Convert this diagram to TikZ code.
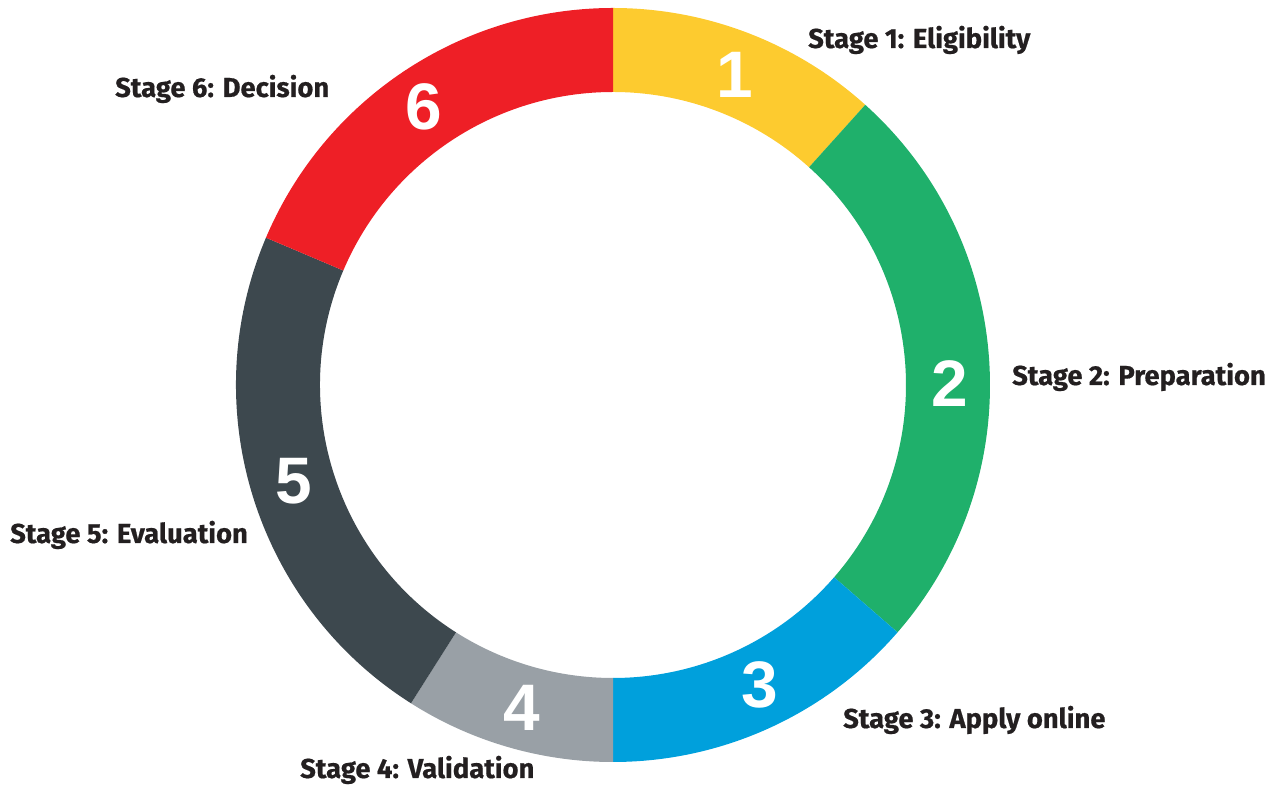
\documentclass[tikz,border=0pt]{standalone}
\usepackage{fontspec}
\setmainfont{Fira Sans}[BoldFeatures={FakeBold=0.6}]
\newfontfamily\numfont{Liberation Sans}
\usetikzlibrary{calc}
\definecolor{cyellow}{HTML}{FDCB2F}
\definecolor{cgreen}{HTML}{1FB06B}
\definecolor{cblue}{HTML}{00A0DC}
\definecolor{cgray}{HTML}{99A0A6}
\definecolor{cdark}{HTML}{3D484E}
\definecolor{cred}{HTML}{EE1F26}
\definecolor{ctext}{HTML}{231F20}
\tikzset{
  num/.style={text=white,font=\numfont\bfseries\fontsize{66}{66}\selectfont,inner sep=0pt},
  lbl/.style={text=ctext,font=\bfseries\fontsize{27.5}{27.5}\selectfont,inner sep=0pt,anchor=base west}
}
\newcommand\ringseg[3]{\fill[#3] ($(C)+(#1:\Ro)$) arc[start angle=#1,end angle=#2,radius=\Ro] -- ($(C)+(#2:\Ri)$) arc[start angle=#2,end angle=#1,radius=\Ri] -- cycle;}
\begin{document}
\begin{tikzpicture}[x=1bp,y=1bp]
\useasboundingbox (0,0) rectangle (1284,787);
\def\Ro{377}\def\Ri{293}
\coordinate (C) at (613,402);
\ringseg{48}{90}{cyellow}
\ringseg{-41}{48}{cgreen}
\ringseg{-90}{-41}{cblue}
\ringseg{-122.4}{-90}{cgray}
\ringseg{157}{237.6}{cdark}
\ringseg{90}{157}{cred}
\node[num] (n1) at (735,712) {1};
\node[num] (n2) at (950,403) {2};
\node[num] (n3) at (760,102) {3};
\node[num] (n4) at (522,79) {4};
\node[num] (n5) at (294,306) {5};
\node[num] (n6) at (424,680) {6};
\node[lbl] (s1) at (808,739) {Stage 1: Eligibility};
\node[lbl] (s2) at (1012,402) {Stage 2: Preparation};
\node[lbl] (s3) at (843,59) {Stage 3: Apply online};
\node[lbl] (s4) at (300,9) {Stage 4: Validation};
\node[lbl] (s5) at (10,244) {Stage 5: Evaluation};
\node[lbl] (s6) at (115,690) {Stage 6: Decision};
\end{tikzpicture}
\end{document}
